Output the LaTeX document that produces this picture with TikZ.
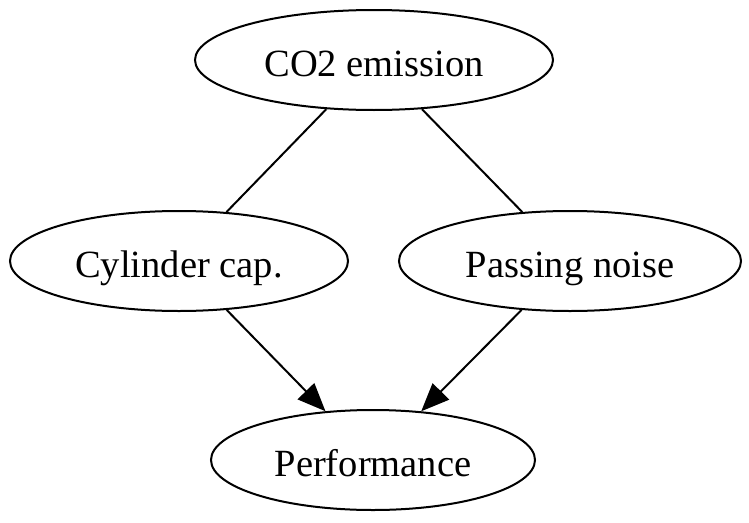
\documentclass[tikz,border=0pt]{standalone}
\usepackage{fontspec}
\setmainfont{Liberation Serif}
\usetikzlibrary{shapes.geometric,arrows.meta}
\tikzset{
  gnode/.style={ellipse, draw, line width=2pt, inner sep=0pt,
    font=\fontsize{38.5}{46}\selectfont, text height=34pt, text depth=2pt},
  gedge/.style={line width=2pt},
  garrow/.style={line width=2pt, -{Triangle[length=28pt,width=23pt]}}
}
\begin{document}
\begin{tikzpicture}[x=1pt,y=-1pt]
\useasboundingbox (0,0) rectangle (749,522);
\node[gnode, minimum width=358pt, minimum height=100pt] (co2) at (374,60) {CO2 emission};
\node[gnode, minimum width=338pt, minimum height=100pt] (cyl) at (179,261) {Cylinder cap.};
\node[gnode, minimum width=342pt, minimum height=100pt] (pas) at (570,261) {Passing noise};
\node[gnode, minimum width=324pt, minimum height=100pt] (perf) at (373,460) {Performance};
\draw[gedge] (co2) -- (cyl);
\draw[gedge] (co2) -- (pas);
\draw[garrow] (cyl) -- (perf);
\draw[garrow] (pas) -- (perf);
\end{tikzpicture}
\end{document}
